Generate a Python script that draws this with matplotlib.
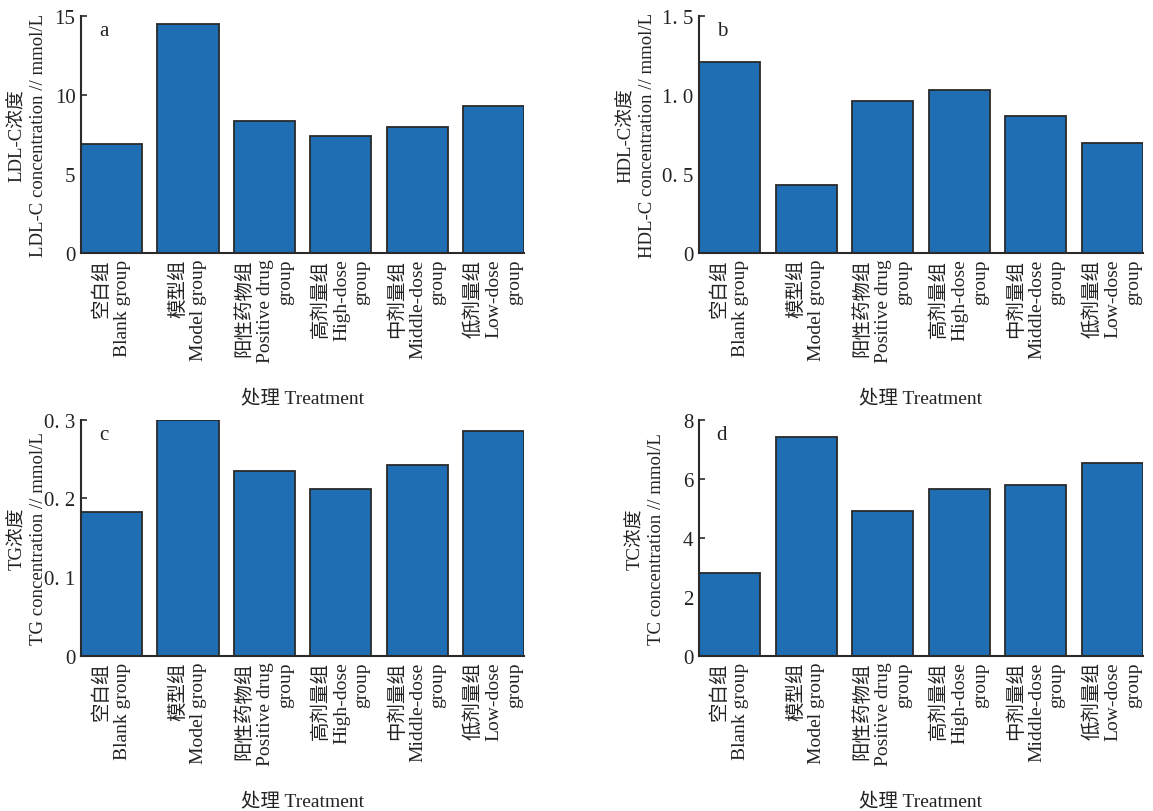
import matplotlib
matplotlib.use('Agg')
import matplotlib.pyplot as plt

# Group names (Chinese / English)
groups = ['空白组\nBlank group',
          '模型组\nModel group',
          '阳性药物组\nPositive drug\ngroup',
          '高剂量组\nHigh-dose\ngroup',
          '中剂量组\nMiddle-dose\ngroup',
          '低剂量组\nLow-dose\ngroup']

# Values (mmol/L)
ldl = [6.92, 14.48, 8.36, 7.40, 7.99, 9.28]
hdl = [1.21, 0.43, 0.96, 1.03, 0.87, 0.70]
tg = [0.183, 0.300, 0.235, 0.212, 0.242, 0.285]
tc = [2.80, 7.40, 4.90, 5.64, 5.80, 6.54]

ldl_ticks = [0, 5, 10, 15]
ldl_ticklabels = ['0', '5', '10', '15']
hdl_ticks = [0, 0.5, 1.0, 1.5]
hdl_ticklabels = ['0', '0. 5', '1. 0', '1. 5']
tg_ticks = [0, 0.1, 0.2, 0.3]
tg_ticklabels = ['0', '0. 1', '0. 2', '0. 3']
tc_ticks = [0, 2, 4, 6, 8]
tc_ticklabels = ['0', '2', '4', '6', '8']

ylabels = ['LDL-C浓度\nLDL-C concentration // mmol/L',
           'HDL-C浓度\nHDL-C concentration // mmol/L',
           'TG浓度\nTG concentration // mmol/L',
           'TC浓度\nTC concentration // mmol/L']
letters = ['a', 'b', 'c', 'd']
xlabel = '处理 Treatment'

fonts = ['Liberation Serif', 'Noto Sans CJK SC']
bar_color = '#1f6db2'
line_color = '#2a2a2a'

fig = plt.figure(figsize=(11.53, 8.12), dpi=100)

# axes rectangles in figure fraction
positions = [
    [0.0703, 0.687, 0.3842, 0.292],
    [0.6062, 0.687, 0.3851, 0.292],
    [0.0703, 0.191, 0.3842, 0.291],
    [0.6062, 0.191, 0.3851, 0.291],
]
label_x = [-0.12, -0.14, -0.12, -0.12]
datasets = [ldl, hdl, tg, tc]
tick_sets = [(ldl_ticks, ldl_ticklabels), (hdl_ticks, hdl_ticklabels),
             (tg_ticks, tg_ticklabels), (tc_ticks, tc_ticklabels)]

for pos, lx, vals, (ticks, tlabels), ylab, letter in zip(positions, label_x, datasets, tick_sets, ylabels, letters):
    ax = fig.add_axes(pos)
    x = list(range(len(vals)))
    ax.bar(x, vals, width=0.8, color=bar_color, edgecolor=line_color, linewidth=1.3, zorder=2)
    ax.set_xlim(-0.4, len(vals) - 0.6)
    ax.set_ylim(ticks[0], ticks[-1])

    for s in ['top', 'right']:
        ax.spines[s].set_visible(False)
    for s in ['left', 'bottom']:
        ax.spines[s].set_color(line_color)
        ax.spines[s].set_linewidth(1.5)
        ax.spines[s].set_zorder(3)

    ax.tick_params(direction='in', length=4, width=1.2, color=line_color, pad=4)
    ax.set_yticks(ticks)
    ax.set_yticklabels(tlabels, family=fonts, fontsize=15, color='#222222')
    ax.set_xticks(x)
    ax.set_xticklabels(groups, rotation=90, family=fonts, fontsize=14,
                       multialignment='right', linespacing=1.25, color='#222222')

    ax.set_ylabel(ylab, family=fonts, fontsize=13.5, linespacing=1.3, color='#222222',
                  va='center')
    ax.yaxis.set_label_coords(lx, 0.5)
    ax.set_xlabel(xlabel, family=fonts, fontsize=14, color='#222222', labelpad=19)
    ax.text(0.04, 0.92, letter, transform=ax.transAxes, family=fonts, fontsize=15,
            color='#222222')

fig.savefig('out.png', dpi=100)
